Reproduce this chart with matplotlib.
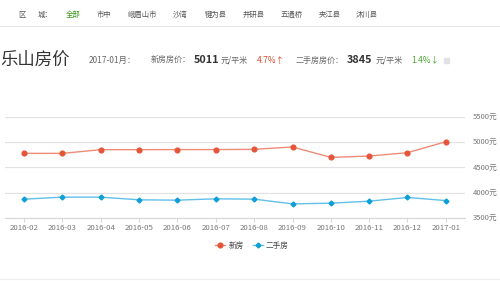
import matplotlib
matplotlib.use("Agg")
import matplotlib.pyplot as plt

plt.rcParams['font.family'] = ['Noto Sans CJK SC', 'DejaVu Sans']

# chart data
months = ['2016-02', '2016-03', '2016-04', '2016-05', '2016-06', '2016-07',
          '2016-08', '2016-09', '2016-10', '2016-11', '2016-12', '2017-01']
new_price = [4780, 4780, 4853, 4853, 4855, 4855, 4860, 4907, 4700, 4727, 4793, 5011]
used_price = [3873, 3913, 3913, 3860, 3853, 3880, 3873, 3780, 3793, 3833, 3907, 3845]
y_ticks = [3500, 4000, 4500, 5000, 5500]
districts = ['全部', '市中', '峨眉山市', '沙湾', '犍为县', '井研县', '五通桥', '夹江县', '沐川县']
district_x = [66, 97, 128, 173, 205, 243, 281, 319, 356]

RED = '#e5553a'
RED_LINE = '#ef8c76'
BLUE = '#0d9fd8'
BLUE_LINE = '#62c0e8'
GRAY = '#777777'

fig = plt.figure(figsize=(5, 2.81), dpi=100)
W, H = 500, 281


def fx(px):
    return px / W


def fy(py):
    return 1 - py / H


# header row: district filter
fig.text(fx(18), fy(15), '区', fontsize=5.3, color='#555555', va='center')
fig.text(fx(38), fy(15), '城：', fontsize=5.3, color='#555555', va='center')
for name, x in zip(districts, district_x):
    c = '#3a9a1a' if name == '全部' else '#555555'
    fig.text(fx(x), fy(15), name, fontsize=5.3, color=c, va='center')
fig.add_artist(plt.Line2D([0, 1], [fy(26), fy(26)], color='#e6e6e6', lw=0.8))

# title row
fig.text(fx(0), fy(60), '乐山房价', fontsize=12.5, color='#333333', va='center')
fig.text(fx(89), fy(60), '2017-01月：', fontsize=6, color='#666666', va='center')
fig.text(fx(151), fy(60), '新房房价：', fontsize=5.8, color='#666666', va='center')
fig.text(fx(194), fy(60), '5011', fontsize=7.8, fontweight='bold', color='#333333', va='center')
fig.text(fx(221), fy(60), '元/平米', fontsize=5.8, color='#666666', va='center')
fig.text(fx(257), fy(60), '4.7%↑', fontsize=6, color='#d9472b', va='center')
fig.text(fx(296), fy(60), '二手房房价：', fontsize=5.8, color='#666666', va='center')
fig.text(fx(347), fy(60), '3845', fontsize=7.8, fontweight='bold', color='#333333', va='center')
fig.text(fx(376), fy(60), '元/平米', fontsize=5.8, color='#666666', va='center')
fig.text(fx(411), fy(60), '1.4%↓', fontsize=6, color='#4aa832', va='center')
fig.add_artist(plt.Rectangle((fx(444), fy(63)), 5 / W, 5 / H, color='#e2e2e2'))

# line chart
ax = fig.add_axes([fx(5), fy(218), (465 - 5) / W, (218 - 117) / H])
x = range(len(months))
ax.plot(x, new_price, color=RED_LINE, lw=1.0, marker='o', ms=3.4,
        mfc=RED, mec=RED, label='新房')
ax.plot(x, used_price, color=BLUE_LINE, lw=1.0, marker='D', ms=2.5,
        mfc=BLUE, mec=BLUE, label='二手房')
ax.set_xlim(-0.5, len(months) - 0.5)
ax.set_ylim(3500, 5500)
ax.set_yticks(y_ticks)
ax.set_yticklabels([f'{v}元' for v in y_ticks])
ax.yaxis.tick_right()
ax.grid(axis='y', color='#e3e3e3', lw=0.9)
ax.set_axisbelow(True)
ax.set_xticks(list(x))
ax.set_xticklabels(months)
for s in ['top', 'left', 'right']:
    ax.spines[s].set_visible(False)
ax.spines['bottom'].set_color('#d8d8d8')
ax.tick_params(axis='x', colors='#d8d8d8', labelcolor=GRAY, labelsize=5.6,
               length=3, pad=1.5)
ax.tick_params(axis='y', length=0, labelcolor=GRAY, labelsize=5.5, pad=5.5)

leg = fig.legend(loc='center', bbox_to_anchor=(fx(252), fy(246)), ncol=2,
                 frameon=False, fontsize=5.5, handlelength=1.3,
                 columnspacing=1.2, handletextpad=0.4)
for t in leg.get_texts():
    t.set_color('#444444')

fig.add_artist(plt.Line2D([0, 1], [fy(279), fy(279)], color='#eeeeee', lw=0.8))

fig.savefig('out.png', dpi=100)
